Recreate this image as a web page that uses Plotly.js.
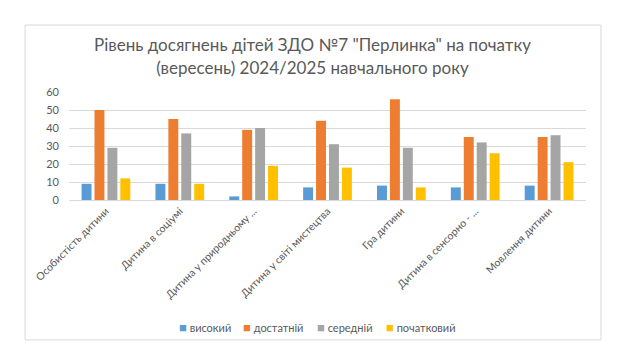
<!DOCTYPE html>
<html><head><meta charset="utf-8">
<script src="https://cdn.plot.ly/plotly-3.0.1.min.js"></script>
<style>html,body{margin:0;padding:0;background:#fff}#chart{width:625px;height:362px}</style>
</head><body><div id="chart"></div>
<script>
const categories = ["Особистість дитини","Дитина в соціумі","Дитина у природньому ...","Дитина у світі мистецтва","Гра дитини","Дитина в сенсорно - ...","Мовлення дитини"];
const seriesNames = ["високий","достатній","середній","початковий"];
const vysokyi = [9, 9, 2, 7, 8, 7, 8];
const dostatnii = [50, 45, 39, 44, 56, 35, 35];
const serednii = [29, 37, 40, 31, 29, 32, 36];
const pochatkovyi = [12, 9, 19, 18, 7, 26, 21];
const yTicks = [0,10,20,30,40,50,60];
const colors = ["#5B9BD5","#ED7D31","#A5A5A5","#FFC000"];
const values = [vysokyi, dostatnii, serednii, pochatkovyi];
const font = "Lato, 'Open Sans', sans-serif";
const traces = values.map((v,i)=>({type:'bar', name:seriesNames[i], x:categories, y:v, marker:{color:colors[i]}, hoverinfo:'none', showlegend:false}));
// legend entries (px positions converted to paper coords)
const plotL = 69, plotW = 517, y0px = 200, yH = 108;
const legendX = [177, 241, 315, 384];
const legendAnn = seriesNames.map((n,i)=>({
  xref:'paper', yref:'paper', x:(legendX[i]-plotL)/plotW, y:(y0px-327)/yH, xanchor:'left', yanchor:'middle', showarrow:false,
  text:'<span style="color:'+colors[i]+';font-size:13px">■</span> '+n, font:{size:11, color:'#595959', family:font}
}));
const layout = {
  width:625, height:362,
  margin:{l:69, r:39, t:92, b:162},
  paper_bgcolor:'#fff', plot_bgcolor:'#fff',
  font:{family:font, color:'#595959'},
  title:{text:'Рівень досягнень дітей ЗДО №7 "Перлинка" на початку<br>(вересень) 2024/2025 навчального року', font:{size:17, color:'#595959', family:font}, x:0.5, xanchor:'center', y:0.858, yanchor:'middle'},
  barmode:'group', bargap:0.3, bargroupgap:0.23,
  xaxis:{tickangle:-45, tickfont:{size:10.5, color:'#595959'}, showgrid:false, showline:true, linecolor:'#d9d9d9', ticks:'', automargin:false},
  yaxis:{range:[0,60], tickvals:yTicks, tickfont:{size:11, color:'#595959'}, gridcolor:'#d9d9d9', zeroline:false, showline:false, ticks:'', ticklabelstandoff:9, automargin:false},
  showlegend:false,
  annotations:legendAnn,
  shapes:[{type:'rect', xref:'paper', yref:'paper', x0:-0.085, x1:1.029, y0:-1.296, y1:1.62, line:{color:'#d9d9d9', width:1}, layer:'below'}]
};
Plotly.newPlot('chart', traces, layout, {staticPlot:true});
</script></body></html>
